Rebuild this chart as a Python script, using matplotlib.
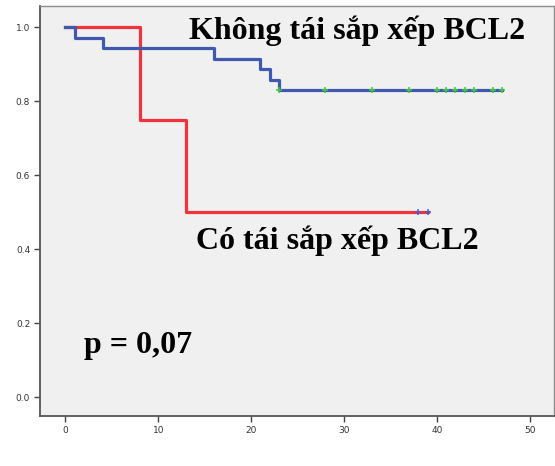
import matplotlib

matplotlib.use("Agg")
import matplotlib.pyplot as plt

# Kaplan-Meier steps (time, survival)
blue_t = [0, 1, 4, 16, 21, 22, 23, 47]
blue_s = [1.0, 0.971, 0.943, 0.914, 0.886, 0.857, 0.829, 0.829]
blue_cens_t = [23, 28, 33, 37, 40, 41, 42, 43, 44, 46, 47]

red_t = [0, 8, 13, 39]
red_s = [1.0, 0.75, 0.5, 0.5]
red_cens_t = [38, 39]

x_ticks = [0, 10, 20, 30, 40, 50]
y_ticks = [0.0, 0.2, 0.4, 0.6, 0.8, 1.0]

label_blue = "Không tái sắp xếp BCL2"
label_red = "Có tái sắp xếp BCL2"
p_text = "p = 0,07"

BLUE = "#3F59AE"
RED = "#F2323C"

fig = plt.figure(figsize=(5.55, 4.66), dpi=100)
ax = fig.add_axes([0.072, 0.107, 0.926, 0.880])
ax.set_facecolor("#F0F0F0")

ax.step(red_t, red_s, where="post", color=RED, linewidth=2.3)
ax.step(blue_t, blue_s, where="post", color=BLUE, linewidth=2.3)
ax.plot(red_cens_t, [red_s[-1]] * len(red_cens_t), "+", color="#4A5FC0",
        markersize=5, markeredgewidth=1.1)
ax.plot(blue_cens_t, [blue_s[-1]] * len(blue_cens_t), "+", color="#3CC83C",
        markersize=5, markeredgewidth=1.1)

ax.set_xlim(-2.75, 52.6)
ax.set_ylim(-0.051, 1.057)
ax.set_xticks(x_ticks)
ax.set_yticks(y_ticks)
ax.set_xticklabels([str(v) for v in x_ticks])
ax.set_yticklabels([f"{v:.1f}" for v in y_ticks])
ax.tick_params(labelsize=6.5, length=4, width=1, color="#444444",
               labelcolor="#333333", direction="out", pad=3)

for side in ("left", "bottom"):
    ax.spines[side].set_color("#555555")
    ax.spines[side].set_linewidth(1.3)
for side in ("top", "right"):
    ax.spines[side].set_color("#8C8C8C")
    ax.spines[side].set_linewidth(1.0)

font = dict(family="Liberation Serif", fontweight="bold", color="black")
ax.text(31.4, 0.99, label_blue, ha="center", va="center", fontsize=23, **font)
ax.text(29.3, 0.424, label_red, ha="center", va="center", fontsize=23, **font)
ax.text(7.8, 0.14, p_text, ha="center", va="center", fontsize=23, **font)

fig.savefig("out.png", dpi=100)
